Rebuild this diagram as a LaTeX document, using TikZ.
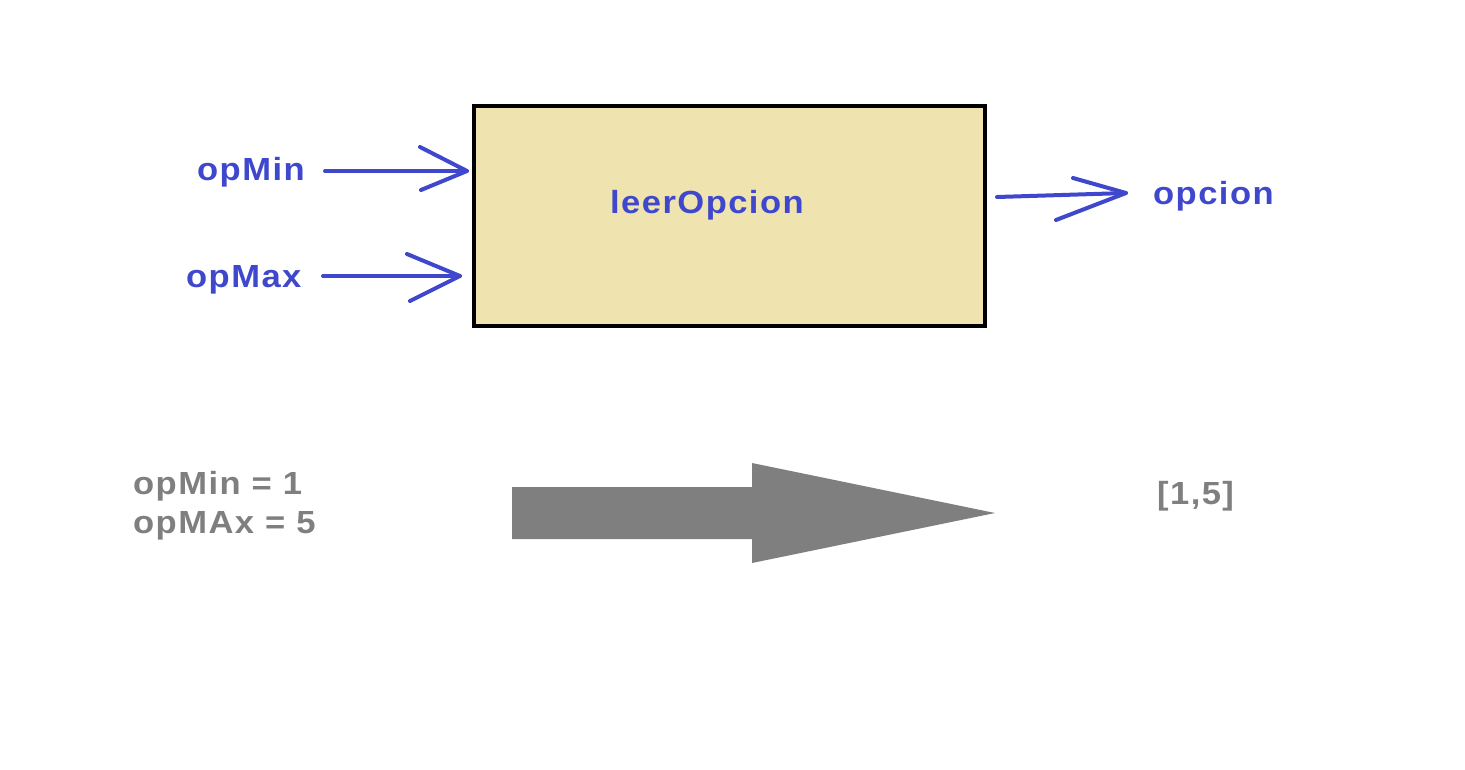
\documentclass[tikz,border=0pt]{standalone}
\usepackage{fontspec}
\setmainfont{Liberation Sans}
\newfontfamily\lblfont[LetterSpace=4.5,FakeStretch=1.08]{Liberation Sans}
\definecolor{indigo}{RGB}{63,72,204}
\definecolor{paleyellow}{RGB}{239,228,176}
\definecolor{midgray}{RGB}{127,127,127}
\begin{document}
\begin{tikzpicture}[x=1pt,y=-1pt,
  lbl/.style={inner sep=0pt, font=\lblfont\fontsize{32}{38}\selectfont\bfseries},
  bluelbl/.style={lbl, text=indigo, anchor=base west},
  graylbl/.style={lbl, text=midgray, anchor=base west},
  wire/.style={draw=indigo, line width=4pt, line cap=round, line join=round},
  bigarrow/.style={fill=midgray}
]
\useasboundingbox (0,0) rectangle (1465,769);
% process box
\node[draw=black, line width=4pt, fill=paleyellow, minimum width=511pt,
      minimum height=220pt, inner sep=0pt, anchor=north west] (box) at (472,104) {};
\node[bluelbl] (name) at (610,213) {leerOpcion};
% labels
\node[bluelbl] (opmin) at (197,180) {opMin};
\node[bluelbl] (opmax) at (186,287) {opMax};
\node[bluelbl] (opcion) at (1153,204) {opcion};
% arrow end points
\coordinate (a1s) at (325,171);
\coordinate (a1t) at (467,171);
\coordinate (a2s) at (323,276);
\coordinate (a2t) at (460,276);
\coordinate (a3s) at (997,197);
\coordinate (a3t) at (1126,193);
% input arrows
\draw[wire] (a1s) -- (a1t);
\draw[wire] (420,147) -- (a1t) -- (421,190);
\draw[wire] (a2s) -- (a2t);
\draw[wire] (407,254) -- (a2t) -- (410,301);
% output arrow
\draw[wire] (a3s) -- (a3t);
\draw[wire] (1073,178) -- (a3t) -- (1056,220);
% example
\node[graylbl] (ex1) at (133,494) {opMin = 1};
\node[graylbl] (ex2) at (133,533) {opMAx = 5};
\node[graylbl] (res) at (1157,504) {[1,5]};
\fill[bigarrow] (512,487) -- (752,487) -- (752,463) -- (995,513)
  -- (752,563) -- (752,539) -- (512,539) -- cycle;
\end{tikzpicture}
\end{document}
